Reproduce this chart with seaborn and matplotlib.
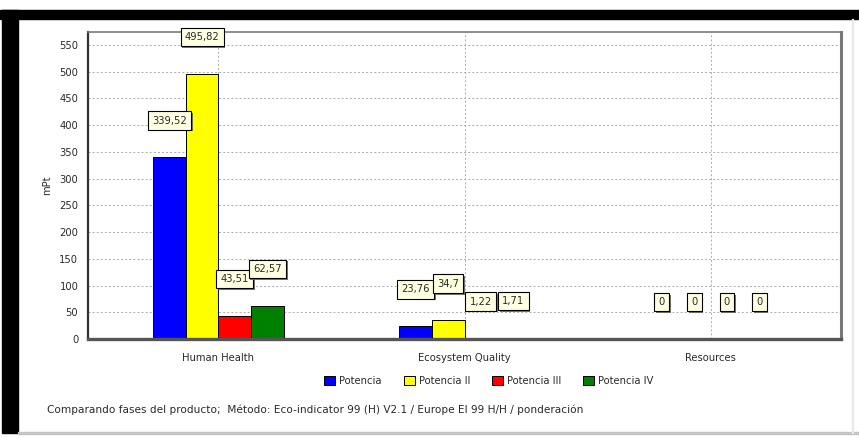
import matplotlib
matplotlib.use("Agg")
import matplotlib.pyplot as plt
import matplotlib.patheffects as pe
from matplotlib.patches import Patch, Rectangle
import pandas as pd
import seaborn as sns

# Impact categories and per-phase scores (mPt)
categories = ["Human Health", "Ecosystem Quality", "Resources"]
series = ["Potencia", "Potencia II", "Potencia III", "Potencia IV"]
potencia = [339.52, 23.76, 0]
potencia_ii = [495.82, 34.7, 0]
potencia_iii = [43.51, 1.22, 0]
potencia_iv = [62.57, 1.71, 0]
y_ticks = list(range(0, 551, 50))
colors = ["#0000FF", "#FFFF00", "#FF0000", "#008000"]
footer = ("Comparando fases del producto;  Método: Eco-indicator 99 (H) V2.1 / "
          "Europe EI 99 H/H / ponderación")

values = [potencia, potencia_ii, potencia_iii, potencia_iv]
df = pd.DataFrame(
    [(c, s, v) for s, vals in zip(series, values) for c, v in zip(categories, vals)],
    columns=["categoria", "serie", "valor"],
)

sns.set_style("white")
plt.rcParams["font.family"] = ["DejaVu Sans"]
TXT = "#2a2a2a"
FS = 7.2

fig = plt.figure(figsize=(8.59, 4.38), dpi=100)
fig.patch.set_facecolor("white")
W, H = 859, 438

# window frame: black bands on top and left, thin grey edges
fig.patches.append(Rectangle((0, 1 - 19 / H), 1, 9 / H,
                             transform=fig.transFigure, color="black", zorder=0))
fig.patches.append(Rectangle((2 / W, 1 - 433 / H), 16 / W, (433 - 10) / H,
                             transform=fig.transFigure, color="black", zorder=0))
fig.patches.append(Rectangle((18 / W, 1 - 434 / H), 1 - 18 / W, 2 / H,
                             transform=fig.transFigure, color="#c4c4c4", zorder=0))
fig.patches.append(Rectangle((852 / W, 1 - 433 / H), 1.2 / W, (433 - 19) / H,
                             transform=fig.transFigure, color="#e8e8e8", zorder=0))

ax = fig.add_axes([88 / W, 1 - 339 / H, (841 - 88) / W, (339 - 32) / H])

sns.barplot(data=df, x="categoria", y="valor", hue="serie", order=categories,
            hue_order=series, palette=colors, width=0.53, gap=0,
            edgecolor="black", linewidth=0.7, saturation=1, legend=False, ax=ax)

ax.set_xlim(-0.53, 2.53)
ax.set_ylim(0, 574)
ax.set_yticks(y_ticks)
ax.set_yticklabels([str(t) for t in y_ticks], fontsize=FS, color=TXT)
ax.set_xticks(range(len(categories)))
ax.set_xticklabels(categories, fontsize=FS, color=TXT)
ax.tick_params(axis="y", length=0, pad=7)
ax.tick_params(axis="x", length=0, pad=10)
ax.set_xlabel("")
ax.set_ylabel("mPt", fontsize=FS, color=TXT, labelpad=5)

ax.set_axisbelow(True)
ax.grid(True, axis="both", linestyle=(0, (2, 2.2)), color="#ababab", linewidth=0.7)

ax.spines["left"].set_color("#333333")
ax.spines["left"].set_linewidth(1.6)
ax.spines["bottom"].set_color("#555555")
ax.spines["bottom"].set_linewidth(2.4)
ax.spines["top"].set_color("#7a7a7a")
ax.spines["top"].set_linewidth(1.2)
ax.spines["right"].set_color("#777777")
ax.spines["right"].set_linewidth(2.2)

# value labels in small tooltip-style boxes above every bar
for container, vals in zip(ax.containers, values):
    for bar, v in zip(container, vals):
        label = f"{v:g}".replace(".", ",")
        t = ax.annotate(label, (bar.get_x() + bar.get_width() / 2, v),
                        xytext=(0, 26.5), textcoords="offset points",
                        ha="center", va="center", fontsize=FS, color=TXT,
                        bbox=dict(boxstyle="square,pad=0.42", fc="#FFFFE1",
                                  ec="black", lw=0.8),
                        zorder=5, annotation_clip=False)
        t.get_bbox_patch().set_path_effects([
            pe.SimplePatchShadow(offset=(1.2, -1.2), shadow_rgbFace="#666666", alpha=0.9),
            pe.Normal(),
        ])

handles = [Patch(facecolor=c, edgecolor="black", linewidth=0.7) for c in colors]
fig.legend(handles, series, loc="center", bbox_to_anchor=(489 / W, 1 - 381 / H),
           ncol=4, frameon=False, fontsize=FS, handlelength=1.1, handleheight=1.0,
           handletextpad=0.4, columnspacing=2.2, labelcolor=TXT)

fig.text(47 / W, 1 - 410 / H, footer, fontsize=7.6, color=TXT, ha="left", va="center")

fig.savefig("out.png", dpi=100)
